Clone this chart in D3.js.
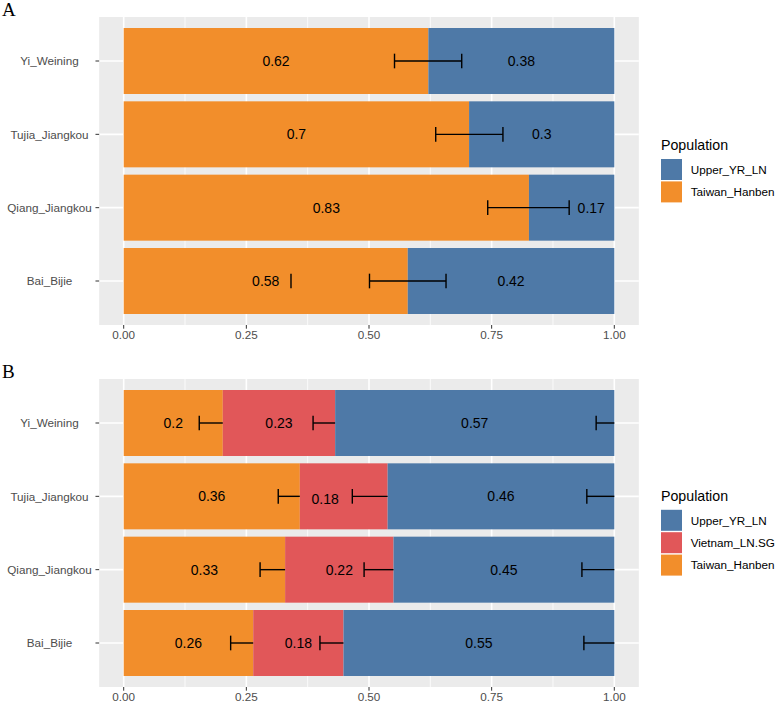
<!DOCTYPE html>
<html>
<head>
<meta charset="utf-8">
<script src="https://cdn.jsdelivr.net/npm/d3@7/dist/d3.min.js"></script>
<style>
  html, body { margin: 0; padding: 0; background: #ffffff; }
  svg { display: block; }
</style>
</head>
<body>
<script>
// ---------------- DATA ----------------
const categories = ["Yi_Weining", "Tujia_Jiangkou", "Qiang_Jiangkou", "Bai_Bijie"];
const tickValues = [0, 0.25, 0.5, 0.75, 1];
const tickLabels = ["0.00", "0.25", "0.50", "0.75", "1.00"];
const minorTicks = [0.125, 0.375, 0.625, 0.875];

// Panel A (two sources)
const aSeries = ["Taiwan_Hanben", "Upper_YR_LN"];
const aTaiwan = [0.621, 0.704, 0.826, 0.579];
const aUpper  = [0.379, 0.296, 0.174, 0.421];
const aErrLo  = [0.552, 0.636, 0.742, 0.501];
const aErrHi  = [0.689, 0.773, 0.908, 0.657];
const aLoneCap = [null, null, null, 0.341];
const aUpperLabelShift = [0, 0, 0.04, 0];        // data units
const aLegend = ["Upper_YR_LN", "Taiwan_Hanben"];

// Panel B (three sources)
const bSeries = ["Taiwan_Hanben", "Vietnam_LN.SG", "Upper_YR_LN"];
const bTaiwan  = [0.202, 0.359, 0.329, 0.264];
const bVietnam = [0.229, 0.179, 0.221, 0.184];
const bUpper   = [0.569, 0.462, 0.450, 0.552];
const bErrLoTaiwan  = [0.154, 0.315, 0.278, 0.218];
const bErrLoVietnam = [0.386, 0.466, 0.490, 0.400];
const bErrLoUpper   = [0.963, 0.944, 0.934, 0.938];
const bVietLabelShiftX = [0, -0.038, 0, 0];      // data units
const bVietLabelShiftY = [0, 0.037, 0, 0];       // category units
const bLegend = ["Upper_YR_LN", "Vietnam_LN.SG", "Taiwan_Hanben"];

const colors = {
  "Upper_YR_LN": "#4E79A7",
  "Vietnam_LN.SG": "#E15759",
  "Taiwan_Hanben": "#F28E2B"
};

// ---------------- LAYOUT ----------------
const W = 777, H = 703;
const FONT = "'Liberation Sans', Arial, Helvetica, sans-serif";
const svg = d3.select("body").append("svg").attr("width", W).attr("height", H);
svg.append("rect").attr("width", W).attr("height", H).attr("fill", "#ffffff");

const x = d3.scaleLinear().domain([0, 1]).range([123.7, 614.3]);
const xLeft = x(-0.05), xRight = x(1.05);

function fmt(v) { return String(+v.toFixed(2)); }

function drawPanel(opts) {
  const { top, bottom, letter, segs, errs, labels, legend } = opts;
  const y = d3.scalePoint().domain(categories).range([top, bottom]).padding(0.6);
  const step = y.step();
  const barH = step * 0.9;
  const capH = step * 0.2;
  const g = svg.append("g");

  // panel letter
  svg.append("text").attr("x", 2).attr("y", top - 1)
    .attr("font-family", "'Liberation Serif', 'DejaVu Serif', serif")
    .attr("font-size", 19).attr("fill", "#000").text(letter);

  // background
  g.append("rect").attr("x", xLeft).attr("y", top)
    .attr("width", xRight - xLeft).attr("height", bottom - top).attr("fill", "#EBEBEB");

  // minor grid
  g.selectAll(".minor").data(minorTicks).join("line")
    .attr("x1", d => x(d)).attr("x2", d => x(d)).attr("y1", top).attr("y2", bottom)
    .attr("stroke", "#ffffff").attr("stroke-width", 0.8);
  // major grid
  g.selectAll(".major").data(tickValues).join("line")
    .attr("x1", d => x(d)).attr("x2", d => x(d)).attr("y1", top).attr("y2", bottom)
    .attr("stroke", "#ffffff").attr("stroke-width", 1.6);
  g.selectAll(".hmajor").data(categories).join("line")
    .attr("x1", xLeft).attr("x2", xRight).attr("y1", d => y(d)).attr("y2", d => y(d))
    .attr("stroke", "#ffffff").attr("stroke-width", 1.6);

  // stacked bars
  segs.forEach(s => {
    g.selectAll(null).data(categories).join("rect")
      .attr("x", (d, i) => x(s.start[i]))
      .attr("width", (d, i) => x(s.start[i] + s.values[i]) - x(s.start[i]))
      .attr("y", d => y(d) - barH / 2)
      .attr("height", barH)
      .attr("fill", colors[s.name]);
  });

  // error bars
  errs.forEach(e => {
    categories.forEach((c, i) => {
      const lo = e.lo[i], hi = e.hi[i];
      if (lo == null) return;
      const cy = y(c);
      if (hi !== lo) {
        g.append("line").attr("x1", x(lo)).attr("x2", x(hi)).attr("y1", cy).attr("y2", cy)
          .attr("stroke", "#000").attr("stroke-width", 1.4);
      }
      const caps = e.bothCaps ? [lo, hi] : [lo];
      caps.forEach(v => {
        g.append("line").attr("x1", x(v)).attr("x2", x(v))
          .attr("y1", cy - capH / 2).attr("y2", cy + capH / 2)
          .attr("stroke", "#000").attr("stroke-width", 1.4);
      });
    });
  });

  // value labels
  labels.forEach(l => {
    categories.forEach((c, i) => {
      g.append("text")
        .attr("x", x(l.pos[i]))
        .attr("y", y(c) + (l.dy ? l.dy[i] * step : 0) + 5)
        .attr("text-anchor", "middle")
        .attr("font-family", FONT).attr("font-size", 14).attr("fill", "#000")
        .text(fmt(l.values[i]));
    });
  });

  // y axis
  categories.forEach(c => {
    g.append("line").attr("x1", xLeft - 3.7).attr("x2", xLeft).attr("y1", y(c)).attr("y2", y(c))
      .attr("stroke", "#333333").attr("stroke-width", 1);
    g.append("text").attr("x", 49.5).attr("y", y(c) + 4.2).attr("text-anchor", "middle")
      .attr("font-family", FONT).attr("font-size", 11.7).attr("fill", "#4D4D4D").text(c);
  });
  // x axis
  tickValues.forEach((t, i) => {
    g.append("line").attr("x1", x(t)).attr("x2", x(t)).attr("y1", bottom).attr("y2", bottom + 3.7)
      .attr("stroke", "#333333").attr("stroke-width", 1);
    g.append("text").attr("x", x(t)).attr("y", bottom + 14.3).attr("text-anchor", "middle")
      .attr("font-family", FONT).attr("font-size", 11.7).attr("fill", "#4D4D4D").text(tickLabels[i]);
  });

  // legend
  const pitch = 22.4, key = 21;
  const center = (top + bottom) / 2;
  const keysTop = center + 10.4 - legend.length * pitch / 2;
  const lx = 661;
  svg.append("text").attr("x", lx).attr("y", keysTop - 9.3)
    .attr("font-family", FONT).attr("font-size", 14.2).attr("fill", "#000").text("Population");
  legend.forEach((name, i) => {
    const ky = keysTop + i * pitch;
    svg.append("rect").attr("x", lx).attr("y", ky).attr("width", key).attr("height", key)
      .attr("fill", colors[name]);
    svg.append("text").attr("x", 690.7).attr("y", ky + key / 2 + 4.2)
      .attr("font-family", FONT).attr("font-size", 11.7).attr("fill", "#000").text(name);
  });
}

// Panel A
const aZero = categories.map(() => 0);
drawPanel({
  top: 17, bottom: 325, letter: "A",
  segs: [
    { name: "Taiwan_Hanben", start: aZero, values: aTaiwan },
    { name: "Upper_YR_LN", start: aTaiwan, values: aUpper }
  ],
  errs: [
    { lo: aErrLo, hi: aErrHi, bothCaps: true },
    { lo: aLoneCap, hi: aLoneCap, bothCaps: false }
  ],
  labels: [
    { values: aTaiwan, pos: aTaiwan.map(v => v / 2) },
    { values: aUpper, pos: aUpper.map((v, i) => aTaiwan[i] + v / 2 + aUpperLabelShift[i]) }
  ],
  legend: aLegend
});

// Panel B
const bCum1 = bTaiwan;
const bCum2 = bTaiwan.map((v, i) => v + bVietnam[i]);
const bCum3 = bCum2.map((v, i) => v + bUpper[i]);
drawPanel({
  top: 379, bottom: 687, letter: "B",
  segs: [
    { name: "Taiwan_Hanben", start: aZero, values: bTaiwan },
    { name: "Vietnam_LN.SG", start: bCum1, values: bVietnam },
    { name: "Upper_YR_LN", start: bCum2, values: bUpper }
  ],
  errs: [
    { lo: bErrLoTaiwan, hi: bCum1, bothCaps: false },
    { lo: bErrLoVietnam, hi: bCum2, bothCaps: false },
    { lo: bErrLoUpper, hi: bCum3, bothCaps: false }
  ],
  labels: [
    { values: bTaiwan, pos: bTaiwan.map(v => v / 2) },
    { values: bVietnam, pos: bVietnam.map((v, i) => bCum1[i] + v / 2 + bVietLabelShiftX[i]), dy: bVietLabelShiftY },
    { values: bUpper, pos: bUpper.map((v, i) => bCum2[i] + v / 2) }
  ],
  legend: bLegend
});
</script>
</body>
</html>
